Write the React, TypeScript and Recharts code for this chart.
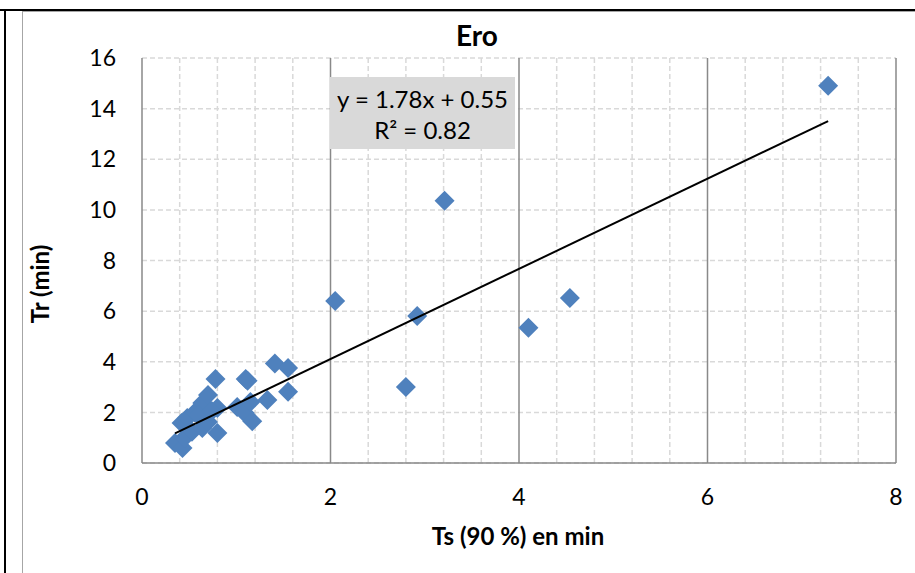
import React from 'react';
import { ScatterChart, Scatter, XAxis, YAxis, CartesianGrid, ReferenceLine } from 'recharts';

// Ts (90 %) en min
const TS_VALUES = [
  0.35, 0.43, 0.45, 0.42, 0.48, 0.53, 0.56, 0.64, 0.64, 0.70,
  0.70, 0.78, 0.80, 0.80, 1.01, 1.09, 1.10, 1.12, 1.15, 1.17,
  1.33, 1.41, 1.55, 1.55, 2.05, 2.80, 2.92, 3.21, 4.10, 4.54, 7.28,
  0.60, 0.74,
];
// Tr (min)
const TR_VALUES = [
  0.79, 0.59, 1.00, 1.58, 1.78, 1.23, 2.00, 2.37, 1.38, 2.69,
  1.62, 3.32, 2.17, 1.19, 2.21, 1.98, 3.32, 3.25, 2.41, 1.65,
  2.49, 3.93, 3.75, 2.81, 6.40, 3.00, 5.81, 10.36, 5.34, 6.52, 14.90,
  1.90, 2.05,
];

const X_TICKS = [0, 2, 4, 6, 8];
const X_MINOR = [0.4, 0.8, 1.2, 1.6, 2.4, 2.8, 3.2, 3.6, 4.4, 4.8, 5.2, 5.6, 6.4, 6.8, 7.2, 7.6];
const Y_TICKS = [0, 2, 4, 6, 8, 10, 12, 14, 16];

const SLOPE = 1.78;
const INTERCEPT = 0.55;
const R2 = 0.82;

const points = TS_VALUES.map((x, i) => ({ x, y: TR_VALUES[i] }));
const xMin = Math.min(...TS_VALUES);
const xMax = Math.max(...TS_VALUES);
const trend = [
  { x: xMin, y: SLOPE * xMin + INTERCEPT },
  { x: xMax, y: SLOPE * xMax + INTERCEPT },
];

const FONT = 'Lato, "Open Sans", sans-serif';
const BLUE = '#4f81bd';
const GRID = '#d9d9d9';
const AXIS = '#898989';

const Diamond = (props: any) => {
  const { cx, cy } = props;
  if (cx == null || cy == null) return <g />;
  const r = 10;
  return <polygon points={`${cx},${cy - r} ${cx + r},${cy} ${cx},${cy + r} ${cx - r},${cy}`} fill={BLUE} />;
};

const tickStyle = { fontSize: 23, fill: '#000', fontFamily: FONT };

export default function App() {
  return (
    <div style={{ position: 'absolute', left: 0, top: 0, width: 915, height: 573, background: '#fff', overflow: 'hidden', fontFamily: FONT }}>
      {/* outer frame lines */}
      <div style={{ position: 'absolute', left: 0, top: 9, width: 915, height: 2, background: '#000' }} />
      <div style={{ position: 'absolute', left: 4, top: 9, width: 2, height: 580, background: '#000' }} />
      <div style={{ position: 'absolute', left: 22, top: 11, width: 920, height: 600, border: '1.5px solid #a6a6a6', boxSizing: 'border-box' }} />

      <div style={{ position: 'absolute', left: 0, top: 0 }}>
        <ScatterChart width={915} height={573} margin={{ top: 58, right: 19, bottom: 0, left: 0 }}>
          <CartesianGrid vertical={false} stroke={GRID} strokeDasharray="5 3" strokeWidth={1.5} />
          {X_MINOR.map((v) => (
            <ReferenceLine key={`m-${v}`} x={v} stroke={GRID} strokeDasharray="5 3" strokeWidth={1.5} />
          ))}
          {X_TICKS.filter((v) => v > 0).map((v) => (
            <ReferenceLine key={`M-${v}`} x={v} stroke={AXIS} strokeWidth={1.5} />
          ))}
          <XAxis
            type="number"
            dataKey="x"
            domain={[0, 8]}
            ticks={X_TICKS}
            height={110}
            tickLine={false}
            tickSize={0}
            tickMargin={26}
            axisLine={{ stroke: AXIS, strokeWidth: 1.5 }}
            tick={tickStyle}
            allowDataOverflow
          />
          <YAxis
            type="number"
            dataKey="y"
            domain={[0, 16]}
            ticks={Y_TICKS}
            width={142}
            tickLine={false}
            tickSize={0}
            tickMargin={26}
            axisLine={{ stroke: AXIS, strokeWidth: 1.5 }}
            tick={tickStyle}
            allowDataOverflow
          />
          <Scatter data={points} shape={Diamond} isAnimationActive={false} />
          <Scatter
            data={trend}
            line={{ stroke: '#000', strokeWidth: 2 }}
            shape={() => <g />}
            legendType="none"
            isAnimationActive={false}
          />
        </ScatterChart>
      </div>

      {/* title */}
      <div style={{ position: 'absolute', left: 377, width: 200, top: 19, textAlign: 'center', fontSize: 28, fontWeight: 700, lineHeight: '32px' }}>
        Ero
      </div>

      {/* axis titles */}
      <div style={{ position: 'absolute', left: 368, width: 300, top: 522, textAlign: 'center', fontSize: 24, fontWeight: 700, lineHeight: '28px' }}>
        Ts (90 %) en min
      </div>
      <div
        style={{
          position: 'absolute', left: 40 - 100, top: 284 - 14, width: 200, textAlign: 'center',
          fontSize: 24, fontWeight: 700, lineHeight: '28px', transform: 'rotate(-90deg)',
        }}
      >
        Tr (min)
      </div>

      {/* equation box */}
      <div
        style={{
          position: 'absolute', left: 330, top: 77, width: 185, height: 72, background: GRID,
          textAlign: 'center', fontSize: 24, lineHeight: '31px', paddingTop: 6, boxSizing: 'border-box',
        }}
      >
        <div>y = {SLOPE.toFixed(2)}x + {INTERCEPT.toFixed(2)}</div>
        <div>R² = {R2.toFixed(2)}</div>
      </div>
    </div>
  );
}
